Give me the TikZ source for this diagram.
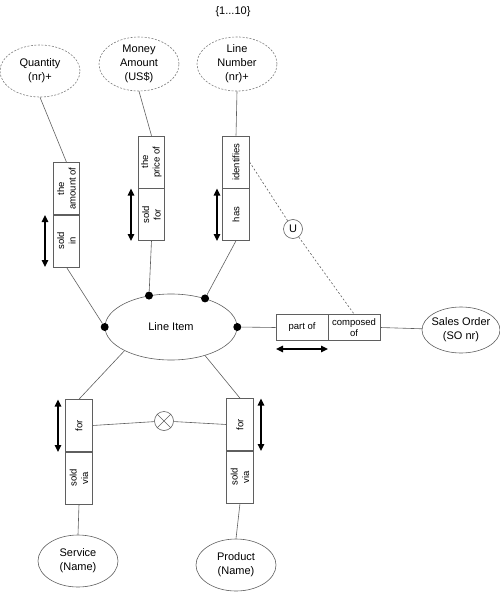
\documentclass[tikz,border=0pt]{standalone}
\usepackage{fontspec}
\setmainfont{Liberation Sans}
\usepackage{tikz}
\usetikzlibrary{shapes.geometric, arrows.meta, positioning}
\definecolor{ormline}{RGB}{95,95,95}
\definecolor{ormdash}{RGB}{125,125,125}

\begin{document}
\begin{tikzpicture}[x=1pt, y=-1pt,
    every node/.style={font=\fontsize{11}{14}\selectfont, text=black},
    entity/.style={ellipse, draw=ormline, line width=0.6pt, inner sep=0pt, align=center},
    valuetype/.style={entity, draw=ormdash, dash pattern=on 2pt off 1.5pt},
    rolebox/.style={rectangle, draw=ormline, line width=0.6pt, inner sep=0pt, minimum width=52pt, minimum height=26.5pt, align=center, font=\fontsize{9.5}{11.5}\selectfont},
    uprole/.style={rolebox, rotate=90},
    link/.style={ormline, line width=0.6pt},
    dot/.style={circle, fill=black, inner sep=0pt, minimum size=8pt},
    uniq/.style={line width=1.3pt, {Triangle[width=6.5pt,length=7pt]}-{Triangle[width=6.5pt,length=7pt]}}]
    \useasboundingbox (0,0) rectangle (500,594);

    \node (title) at (233,12) {\{1...10\}};

    % value types
    \node[valuetype, minimum width=80pt, minimum height=52pt] (qty) at (40,71) {Quantity\\(nr)+};
    \node[valuetype, minimum width=80pt, minimum height=54pt] (mon) at (139,64) {Money\\Amount\\(US\$)};
    \node[valuetype, minimum width=80pt, minimum height=54pt] (lnr) at (237,64) {Line\\Number\\(nr)+};

    % entity types
    \node[entity, minimum width=132pt, minimum height=66pt] (li) at (171,327) {Line Item};
    \node[entity, minimum width=78pt, minimum height=46pt, inner xsep=-2pt] (so) at (461,330) {Sales Order\\(SO nr)};
    \node[entity, minimum width=80pt, minimum height=52pt] (svc) at (78,561) {Service\\(Name)};
    \node[entity, minimum width=80pt, minimum height=52pt] (prd) at (236,565) {Product\\(Name)};

    % fact types
    \node[uprole] (amtT) at (66.5,188.5) {the\\amount of};
    \node[uprole] (amtS) at (66.5,241) {sold\\in};
    \node[uprole] (prcT) at (151.5,162) {the\\price of};
    \node[uprole] (prcS) at (151.5,214.5) {sold\\for};
    \node[uprole] (idT) at (236,162) {identifies};
    \node[uprole] (idS) at (236,214.5) {has};
    \node[rolebox] (part) at (302,327.5) {part of};
    \node[rolebox] (comp) at (354,327.5) {composed\\of};
    \node[uprole] (svF) at (79,425.5) {for};
    \node[uprole] (svS) at (79,478) {sold\\via};
    \node[uprole] (prF) at (240,424.5) {for};
    \node[uprole] (prS) at (240,477) {sold\\via};

    % constraints
    \node[circle, draw=ormline, line width=0.6pt, inner sep=0pt, minimum size=19pt] (u) at (293,229) {U};
    \node[circle, draw=ormline, line width=0.6pt, inner sep=0pt, minimum size=19pt] (excl) at (164,421) {};
    \draw[link] (excl.45) -- (excl.225) (excl.135) -- (excl.315);

    \node[dot] (d1) at (li.125) {};
    \node[dot] (d2) at (li.40) {};
    \node[dot] (d3) at (li.west) {};
    \node[dot] (d4) at (li.east) {};

    \draw[link] (qty.south) -- (amtT.east);
    \draw[link] (mon.south) -- (prcT.east);
    \draw[link] (lnr.south) -- (idT.east);
    \draw[link] (d3) -- (amtS.west);
    \draw[link] (d1) -- (prcS.west);
    \draw[link] (d2) -- (idS.west);
    \draw[link] (d4) -- (part.west);
    \draw[link] (comp.east) -- (so);
    \draw[link, dash pattern=on 2pt off 2pt] (idT.south) -- (u) -- (comp.north);
    \draw[link] (li.207) -- (svF.east);
    \draw[link] (li.320) -- (prF.east);
    \draw[link] (svF.south) -- (excl) -- (prF.north);
    \draw[link] (svS.west) -- (svc.north);
    \draw[link] (prS.west) -- (prd.north);

    % uniqueness bars
    \draw[uniq] (45,215) -- (45,267);
    \draw[uniq] (131,188.5) -- (131,241);
    \draw[uniq] (217,188.5) -- (217,241);
    \draw[uniq] (276,349) -- (328,349);
    \draw[uniq] (58,399.5) -- (58,452);
    \draw[uniq] (261,398.5) -- (261,451);
\end{tikzpicture}
\end{document}
